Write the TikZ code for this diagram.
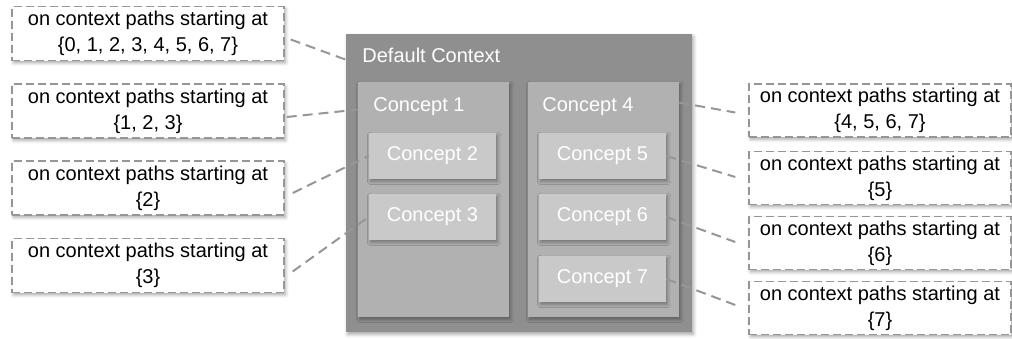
\documentclass[tikz,border=0pt]{standalone}
\usepackage{fontspec}
\setmainfont{Liberation Sans}
\usetikzlibrary{shadows.blur}
\definecolor{gOuter}{RGB}{143,143,143}
\definecolor{gMid}{RGB}{177,177,177}
\definecolor{gInner}{RGB}{201,201,201}
\definecolor{gLine}{RGB}{150,150,150}
\tikzset{
  shd/.style={blur shadow={shadow xshift=0.8pt,shadow yshift=-1.2pt,shadow blur radius=1.6pt,shadow opacity=35}},
  ctxbox/.style={fill=gOuter,draw=none,shd,minimum width=173pt,minimum height=149pt,inner sep=0pt},
  midbox/.style={fill=gMid,draw=none,shd,minimum width=75.5pt,minimum height=117.5pt,inner sep=0pt},
  innerbox/.style={fill=gInner,draw=none,shd,minimum width=63.5pt,minimum height=23pt,inner sep=0pt,
     text=white,font=\fontsize{10}{12}\selectfont},
  boxlabel/.style={anchor=base west,inner sep=0pt,text=white,font=\fontsize{10}{12}\selectfont},
  callout/.style={fill=white,draw=gLine,line width=0.7pt,dash pattern=on 4pt off 2pt,shd,
     inner sep=0pt,align=center,font=\fontsize{10}{13}\selectfont},
  lcall/.style={callout,minimum width=136pt,minimum height=27pt},
  rcall/.style={callout,minimum width=131pt,minimum height=26.5pt},
  conn/.style={draw=gLine,line width=1pt,dash pattern=on 5pt off 3pt},
}
\begin{document}
\begin{tikzpicture}[x=0.5pt,y=-0.5pt]
\useasboundingbox (0,0) rectangle (1012,338);
% main boxes
\node[ctxbox] (ctx) at (519,183) {};
\node[boxlabel] (ctxl) at (362,62) {Default Context};
\node[midbox] (c1) at (433.5,199.5) {};
\node[boxlabel] (c1l) at (373,111) {Concept 1};
\node[midbox] (c4) at (603.5,199.5) {};
\node[boxlabel] (c4l) at (542,111) {Concept 4};
\node[innerbox] (c2) at (432.5,156) {Concept 2};
\node[innerbox] (c3) at (432.5,217) {Concept 3};
\node[innerbox] (c5) at (602.5,156) {Concept 5};
\node[innerbox] (c6) at (602.5,217) {Concept 6};
\node[innerbox] (c7) at (602.5,279) {Concept 7};
% left callouts
\node[lcall] (L1) at (148,33.5) {on context paths starting at\\\{0, 1, 2, 3, 4, 5, 6, 7\}};
\node[lcall] (L2) at (148,111) {on context paths starting at\\\{1, 2, 3\}};
\node[lcall] (L3) at (148,188) {on context paths starting at\\\{2\}};
\node[lcall] (L4) at (148,265.5) {on context paths starting at\\\{3\}};
% right callouts
\node[rcall] (R1) at (880,110.5) {on context paths starting at\\\{4, 5, 6, 7\}};
\node[rcall] (R2) at (880,178) {on context paths starting at\\\{5\}};
\node[rcall] (R3) at (880,243) {on context paths starting at\\\{6\}};
\node[rcall] (R4) at (880,308) {on context paths starting at\\\{7\}};
% connectors
\draw[conn] ([xshift=3pt,yshift=-3pt]L1.east) -- ([yshift=-13pt]ctx.north west);
\draw[conn] ([xshift=1pt,yshift=-3pt]L2.east) -- ([yshift=-14pt]c1.north west);
\draw[conn] ([xshift=4pt,yshift=-2.5pt]L3.east) -- (c2.west);
\draw[conn] ([xshift=4pt,yshift=-3pt]L4.east) -- (c3.west);
\draw[conn] ([yshift=-10.5pt]c4.north east) -- ([xshift=-6.5pt,yshift=-1pt]R1.west);
\draw[conn] (c5.east) -- ([xshift=-6.5pt,yshift=0.5pt]R2.west);
\draw[conn] (c6.east) -- ([xshift=-6.5pt,yshift=0.5pt]R3.west);
\draw[conn] (c7.east) -- ([xshift=-6.5pt,yshift=1.5pt]R4.west);
\end{tikzpicture}
\end{document}
